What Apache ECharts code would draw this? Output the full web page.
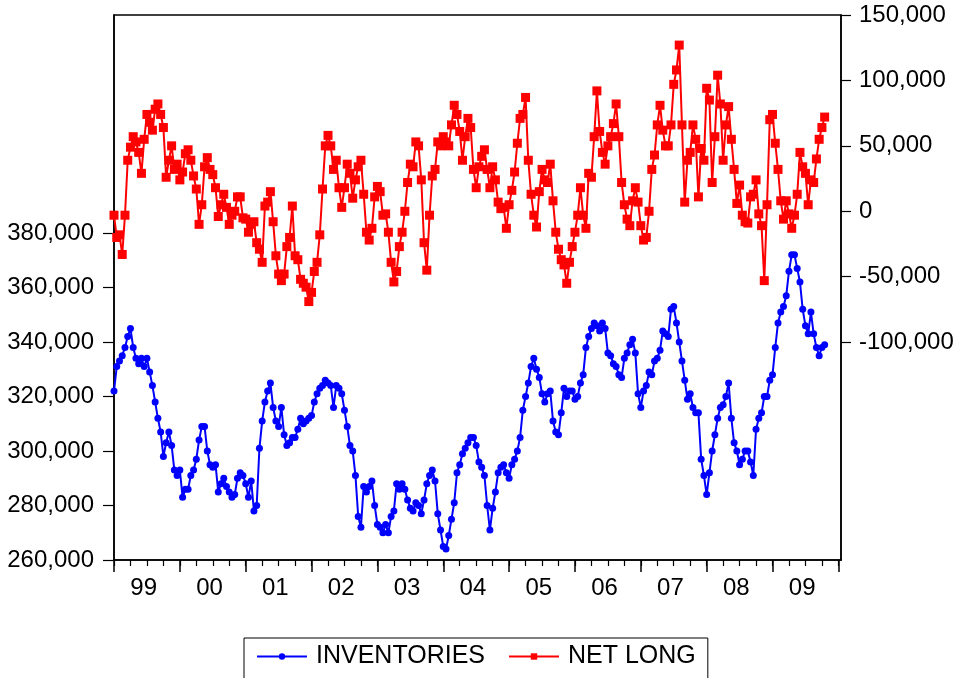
<!DOCTYPE html>
<html>
<head>
<meta charset="utf-8">
<script src="https://cdn.jsdelivr.net/npm/echarts@6/dist/echarts.min.js"></script>
<style>
  html, body { margin: 0; padding: 0; background: #fff; }
  #chart { width: 960px; height: 678px; }
</style>
</head>
<body>
<div id="chart"></div>
<script>
// Semi-monthly observations starting January 1999
const startYear = 1999;
const obsPerYear = 24;

// INVENTORIES (thousands)
const inventories = [
  322,331,333,335,338,342,345,338,334,332,
  334,331,334,329,324,318,312,307,298,303,
  307,302,293,291,293,283,286,286,291,293,
  297,304,309,309,300,295,294,295,285,288,
  290,287,285,283,284,290,292,291,288,283,
  289,278,280,301,311,318,322,325,316,311,
  309,316,306,302,303,305,305,308,312,310,
  311,312,313,318,321,323,324,326,325,324,
  316,324,323,321,315,309,302,300,291,276,
  272,287,285,287,289,280,273,272,270,273,
  270,276,278,288,286,288,286,282,279,278,
  281,280,277,282,288,291,293,289,277,271,
  265,264,269,275,281,292,295,299,301,303,
  305,305,302,296,294,291,280,271,279,285,
  292,294,295,292,290,295,297,300,305,315,
  320,325,331,334,330,327,321,318,321,322,
  311,307,306,314,323,320,322,322,319,320,
  325,328,338,342,345,347,346,344,347,345,
  336,335,332,331,328,327,334,336,339,341,
  336,321,316,322,324,329,328,333,334,337,
  344,343,342,352,353,347,340,333,326,319,
  321,316,314,314,297,291,284,292,300,306,
  312,316,317,320,325,312,303,300,295,297,
  300,300,296,291,308,312,314,320,320,326,
  328,338,347,351,353,357,366,372,372,367,
  362,352,346,343,351,343,338,335,338,339
];

// NET LONG (thousands)
const netLong = [
  -3,-20,-18,-33,-3,39,49,57,53,45,
  29,55,74,68,62,78,82,74,64,26,
  39,50,32,36,24,30,44,47,39,27,
  17,-10,5,34,41,32,28,18,-4,5,
  13,3,-10,-3,0,11,11,-5,-6,-16,
  -10,-8,-24,-29,-39,4,7,15,-8,-34,
  -48,-53,-48,-27,-20,4,-34,-37,-52,-55,
  -58,-69,-62,-46,-39,-18,17,50,58,50,
  32,39,18,3,18,36,29,10,24,34,
  39,13,-16,-22,-13,11,19,15,-3,-2,
  -16,-39,-54,-46,-27,-16,0,22,36,34,
  53,50,24,-24,-45,-3,27,32,53,50,
  57,53,50,66,81,74,61,39,57,71,
  64,32,18,34,42,47,32,18,34,24,
  7,2,3,-13,5,16,30,52,71,74,
  87,39,13,-3,-12,15,32,24,22,36,
  8,-16,-29,-37,-41,-55,-39,-27,-16,-3,
  18,-3,-13,29,26,57,92,61,45,36,
  50,57,67,82,57,22,5,-6,-11,8,
  18,7,-11,-22,-20,0,32,43,66,81,
  62,50,50,66,97,108,127,66,7,39,
  45,66,55,11,48,39,94,85,22,57,
  104,82,39,66,80,55,32,6,20,-3,
  -8,-9,11,13,24,-2,-11,-53,5,70,
  74,52,32,8,-6,8,-2,-13,-3,13,
  45,34,29,5,24,22,40,55,64,72
];

// Axis ticks and labels
const yearTicks = [1999,2000,2001,2002,2003,2004,2005,2006,2007,2008,2009,2010];
const yearLabels = ['99','00','01','02','03','04','05','06','07','08','09'];
const leftTicks = [260000,280000,300000,320000,340000,360000,380000];
const rightTicks = [-100000,-50000,0,50000,100000,150000];

const labelShift = 0.45;
const yearLabelPos = yearLabels.map((_, k) => yearTicks[k] + labelShift);
const quarterTicks = [];
yearTicks.forEach(y => { [0, 0.25, 0.5, 0.75].forEach(q => { if (y + q <= 2010) quarterTicks.push(y + q); }); });

const invData = inventories.map((v, i) => [startYear + i / obsPerYear, v * 1000]);
const nlData = netLong.map((v, i) => [startYear + i / obsPerYear, v * 1000]);

const fmt = v => Math.round(v).toLocaleString('en-US');
const font = 'Liberation Sans, Arial, sans-serif';
const xMin = 1999, xMax = 2010.04;

const chart = echarts.init(document.getElementById('chart'), null, { renderer: 'canvas' });
chart.setOption({
  animation: false,
  backgroundColor: '#fff',
  grid: {
    left: 114, right: 119, top: 15, bottom: 118,
    show: true, borderColor: '#000', borderWidth: 1.5, backgroundColor: 'transparent'
  },
  legend: {
    data: ['INVENTORIES', 'NET LONG'],
    left: 244, top: 638,
    itemWidth: 50, itemHeight: 8, itemGap: 23,
    borderColor: '#000', borderWidth: 1,
    padding: [6, 12, 14, 12],
    textStyle: { fontSize: 25, color: '#000', fontFamily: font, padding: [0, 0, 0, 4] }
  },
  xAxis: [
    {
      type: 'value', min: xMin, max: xMax, position: 'bottom',
      axisLine: { show: true, onZero: false, lineStyle: { color: '#000', width: 1.5 } },
      axisTick: { show: true, customValues: yearTicks, length: 12, lineStyle: { color: '#000', width: 1.5 } },
      axisLabel: {
        show: true, customValues: yearLabelPos, margin: 16,
        fontSize: 24, color: '#000', fontFamily: font,
        formatter: v => yearLabels[Math.round(v - labelShift - 1999)]
      },
      splitLine: { show: false }
    },
    {
      type: 'value', min: xMin, max: xMax, position: 'bottom', gridIndex: 0,
      axisLine: { show: false, onZero: false },
      axisTick: { show: true, customValues: quarterTicks, length: 6, lineStyle: { color: '#000', width: 1.2 } },
      axisLabel: { show: false },
      splitLine: { show: false }
    }
  ],
  yAxis: [
    {
      type: 'value', min: 260000, max: 460000, position: 'left',
      axisLine: { show: true, onZero: false, lineStyle: { color: '#000', width: 1.5 } },
      axisTick: { show: true, customValues: leftTicks, length: 11, lineStyle: { color: '#000', width: 1.2 } },
      axisLabel: { show: true, customValues: leftTicks, margin: 20, fontSize: 24, color: '#000', fontFamily: font, formatter: fmt },
      splitLine: { show: false }
    },
    {
      type: 'value', min: -266500, max: 150000, position: 'right',
      axisLine: { show: true, onZero: false, lineStyle: { color: '#000', width: 1.5 } },
      axisTick: { show: true, customValues: rightTicks, length: 10, lineStyle: { color: '#000', width: 1.2 } },
      axisLabel: { show: true, customValues: rightTicks, margin: 18, fontSize: 24, color: '#000', fontFamily: font, formatter: fmt },
      splitLine: { show: false }
    }
  ],
  series: [
    {
      name: 'INVENTORIES', type: 'line', xAxisIndex: 0, yAxisIndex: 0,
      data: invData, color: '#0000FF',
      symbol: 'circle', symbolSize: 7, showSymbol: true, showAllSymbol: true,
      lineStyle: { width: 2, color: '#0000FF' },
      itemStyle: { color: '#0000FF' }
    },
    {
      name: 'NET LONG', type: 'line', xAxisIndex: 0, yAxisIndex: 1,
      data: nlData, color: '#FF0000',
      symbol: 'rect', symbolSize: 9, showSymbol: true, showAllSymbol: true,
      lineStyle: { width: 2, color: '#FF0000' },
      itemStyle: { color: '#FF0000' }
    }
  ]
});
</script>
</body>
</html>
